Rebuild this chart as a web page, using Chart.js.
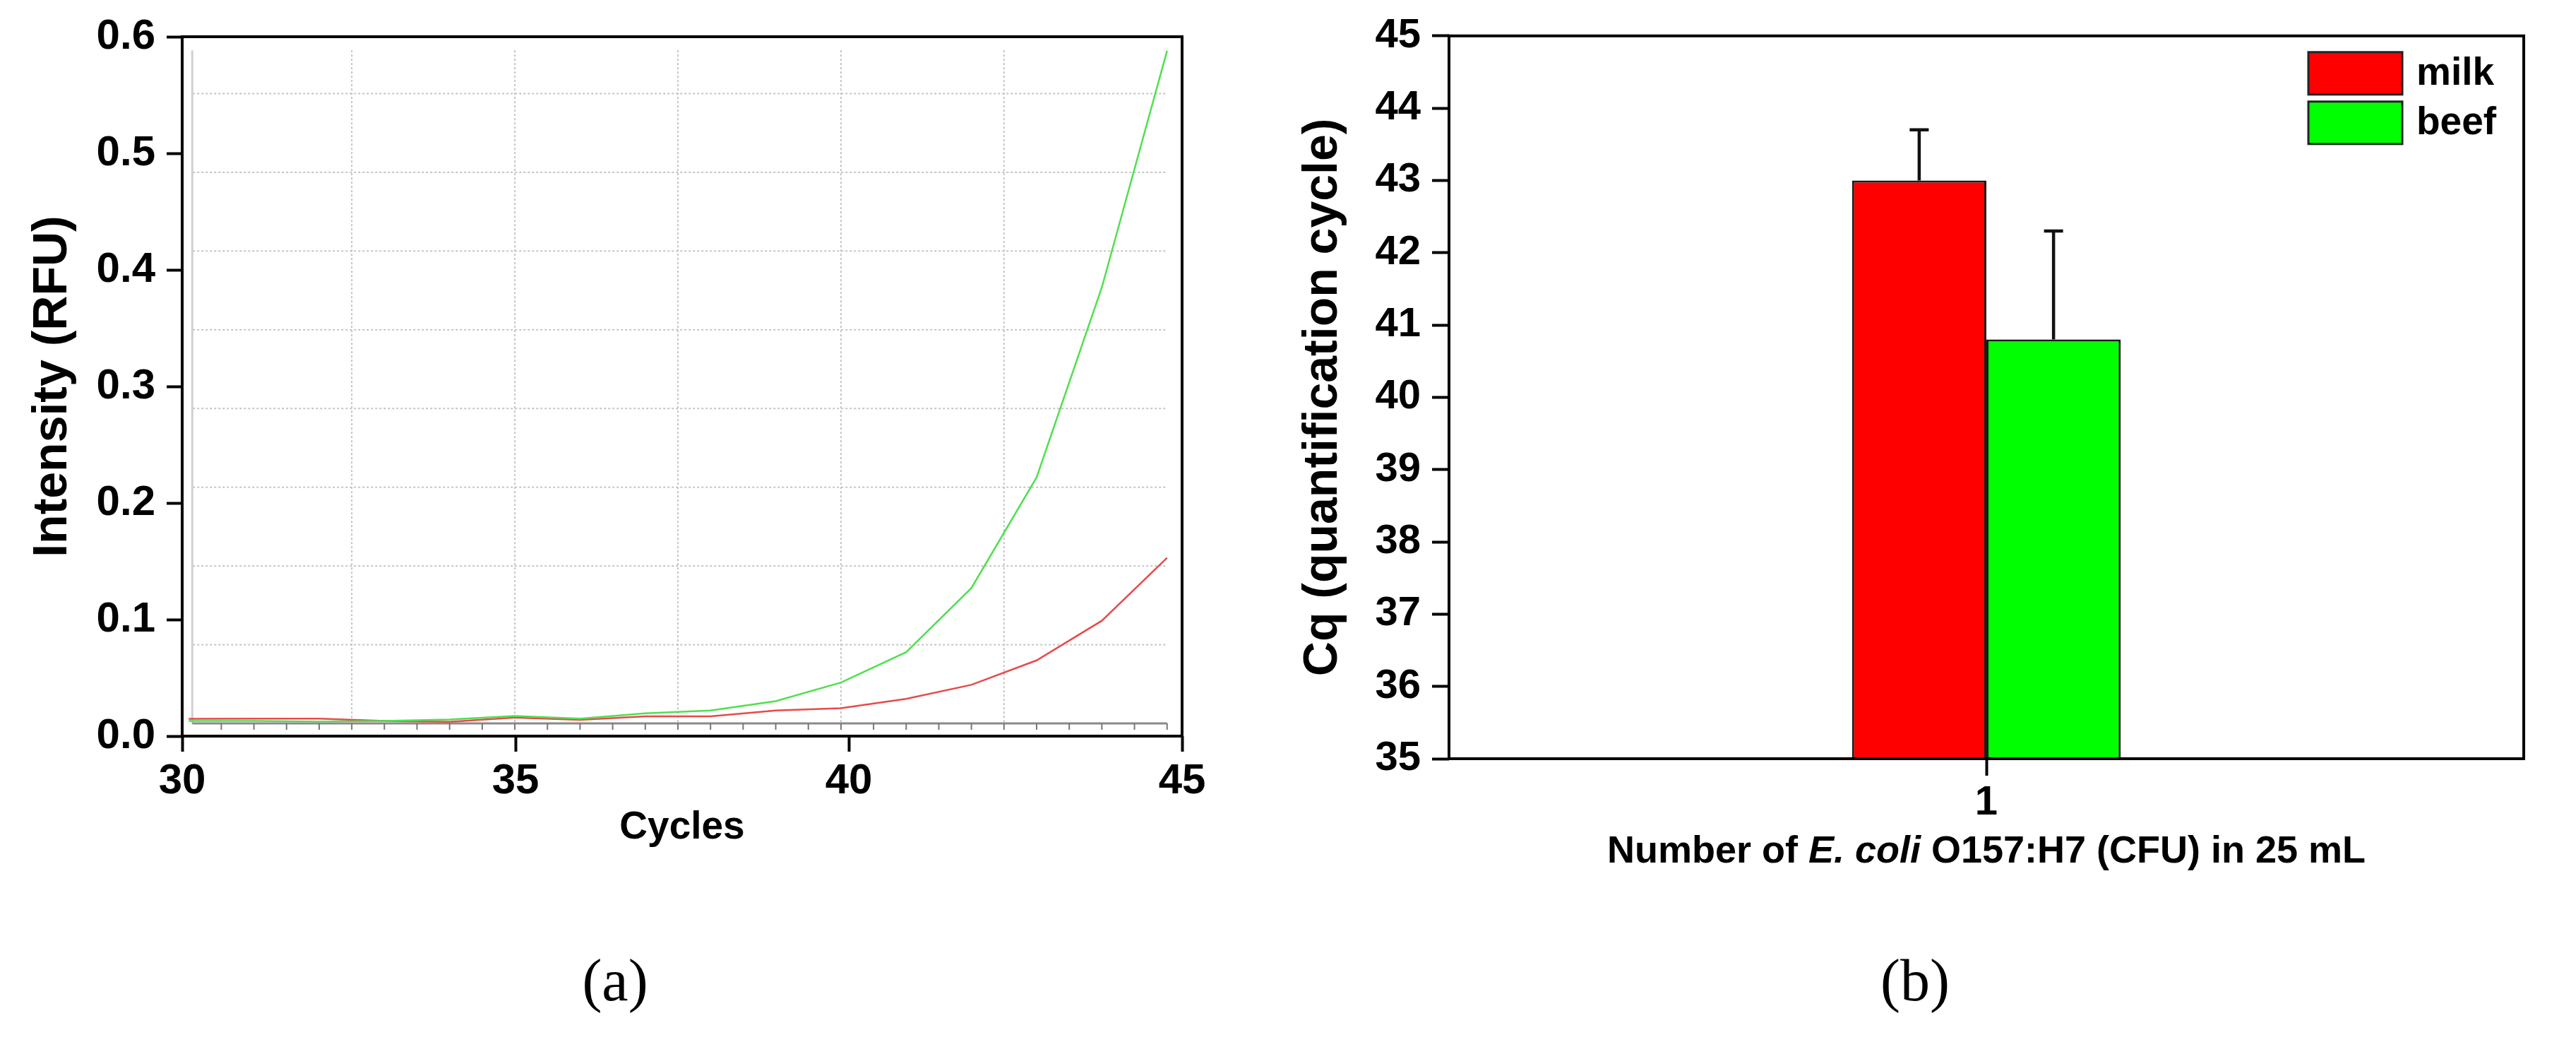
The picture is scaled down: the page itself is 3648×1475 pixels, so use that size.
<!DOCTYPE html>
<html>
<head>
<meta charset="utf-8">
<script src="https://cdn.jsdelivr.net/npm/chart.js@4.4.1/dist/chart.umd.min.js"></script>
<style>
  body { margin: 0; background: #fff; }
  #page { position: relative; width: 3648px; height: 1475px; background: #fff; overflow: hidden; }
  .plot { position: absolute; top: 0; }
  .xtitle { position: absolute; font: bold 54px 'Liberation Sans', Arial, sans-serif; line-height: 65px;
            text-align: center; white-space: nowrap; color: #000; }
  .caption { position: absolute; font: 84px 'Liberation Serif', 'Times New Roman', serif; line-height: 100px;
             text-align: center; color: #000; }
</style>
</head>
<body>
<div id="page">
  <canvas id="curves" class="plot" width="1800" height="1300" style="left:0"></canvas>
  <canvas id="cqBars" class="plot" width="1848" height="1300" style="left:1800px"></canvas>
  <div class="xtitle" style="left:2113px; top:1170px; width:1400px">Number of <i>E. coli</i> O157:H7 (CFU) in 25 mL</div>
  <div class="caption" style="left:771px; top:1338px; width:200px">(a)</div>
  <div class="caption" style="left:2612px; top:1338px; width:200px">(b)</div>
</div>
<script>
// (a) amplification curves
const cycles = [30, 31, 32, 33, 34, 35, 36, 37, 38, 39, 40, 41, 42, 43, 44, 45];
const beefRfu = [0.013, 0.013, 0.0125, 0.013, 0.0143, 0.0173, 0.015, 0.0195, 0.022, 0.030, 0.046, 0.072, 0.127, 0.222, 0.385, 0.588];
const milkRfu = [0.0149, 0.015, 0.015, 0.013, 0.0122, 0.0159, 0.014, 0.017, 0.017, 0.022, 0.024, 0.032, 0.044, 0.065, 0.099, 0.153];

// (b) Cq bars with upper error bars
const groups = ['1'];
const milkCq = [43.0];
const milkErr = [0.7];
const beefCq = [40.8];
const beefErr = [1.5];

const FONT = "'Liberation Sans', Arial, sans-serif";
Chart.defaults.font.family = FONT;
Chart.defaults.color = '#000';

const axisTicks = len => ({
    display: true, drawOnChartArea: false, drawTicks: true,
    tickLength: len, tickWidth: 4, tickColor: '#000'
});

// black box around the plot area
const frame = {
    id: 'frame',
    afterDraw(chart) {
        const { ctx, chartArea: a } = chart;
        ctx.save();
        ctx.strokeStyle = '#000';
        ctx.lineWidth = 4;
        ctx.strokeRect(a.left, a.top, a.right - a.left, a.bottom - a.top);
        ctx.restore();
    }
};

// grey grid of the instrument plot that sits inside panel (a)
const innerGrid = {
    id: 'innerGrid',
    beforeDatasetsDraw(chart) {
        const { ctx } = chart;
        const gx = chart.scales.x2, gy = chart.scales.y2;
        const x0 = gx.getPixelForValue(30), x1 = gx.getPixelForValue(45);
        const yb = gy.getPixelForValue(0), yt = gy.getPixelForValue(8.55);
        ctx.save();
        ctx.strokeStyle = '#c4c4c4';
        ctx.lineWidth = 2;
        ctx.setLineDash([3, 3]);
        for (let k = 1; k <= 8; k++) {
            const y = gy.getPixelForValue(k);
            ctx.beginPath(); ctx.moveTo(x0 + 6, y); ctx.lineTo(x1, y); ctx.stroke();
        }
        for (let c = 32.5; c < 45; c += 2.5) {
            const x = gx.getPixelForValue(c);
            ctx.beginPath(); ctx.moveTo(x, yt); ctx.lineTo(x, yb); ctx.stroke();
        }
        ctx.setLineDash([]);
        ctx.strokeStyle = '#d0d0d0';
        ctx.lineWidth = 3;
        ctx.beginPath(); ctx.moveTo(x0 + 5, yt); ctx.lineTo(x0 + 5, yb); ctx.stroke();
        ctx.strokeStyle = '#8a8a8a';
        ctx.beginPath(); ctx.moveTo(x0 + 5, yb); ctx.lineTo(x1, yb); ctx.stroke();
        ctx.lineWidth = 2;
        ctx.strokeStyle = '#777';
        for (let c = 30.5; c <= 45; c += 0.5) {
            const x = gx.getPixelForValue(c);
            ctx.beginPath(); ctx.moveTo(x, yb); ctx.lineTo(x, yb + 9); ctx.stroke();
        }
        ctx.restore();
    }
};

new Chart(document.getElementById('curves'), {
    type: 'line',
    data: {
        datasets: [{
            label: 'beef',
            data: cycles.map((c, i) => ({ x: c, y: beefRfu[i] })),
            borderColor: '#4fe04f',
            borderWidth: 2.5,
            pointRadius: 0,
            tension: 0,
            xAxisID: 'x2',
            yAxisID: 'y'
        }, {
            label: 'milk',
            data: cycles.map((c, i) => ({ x: c, y: milkRfu[i] })),
            borderColor: '#e84a4a',
            borderWidth: 2.5,
            pointRadius: 0,
            tension: 0,
            xAxisID: 'x2',
            yAxisID: 'y'
        }]
    },
    options: {
        responsive: false,
        animation: false,
        layout: { padding: { left: 0, top: 49, right: 126, bottom: 88 } },
        plugins: { legend: { display: false }, tooltip: { enabled: false } },
        scales: {
            x: {
                type: 'linear', position: 'bottom', min: 30, max: 45,
                ticks: { stepSize: 5, font: { size: 60, weight: 'bold' }, padding: 6, maxRotation: 0 },
                grid: axisTicks(22),
                border: { display: false },
                title: { display: true, text: 'Cycles', font: { size: 55, weight: 'bold' }, padding: { top: 0, bottom: 7 } },
                afterFit(s) { s.height = 170; }
            },
            x2: { type: 'linear', display: false, min: 29.9, max: 45.23 },
            y: {
                type: 'linear', position: 'left', min: 0, max: 0.6,
                ticks: { stepSize: 0.1, font: { size: 60, weight: 'bold' }, padding: 16, callback: v => v.toFixed(1) },
                grid: axisTicks(22),
                border: { display: false },
                title: { display: true, text: 'Intensity (RFU)', font: { size: 68, weight: 'bold' }, padding: { top: 34, bottom: 0 } },
                afterFit(s) { s.width = 258; }
            },
            y2: { type: 'linear', display: false, min: -0.161, max: 8.722 }
        }
    },
    plugins: [innerGrid, frame]
});

// upward error bars with caps
const errorBars = {
    id: 'errorBars',
    afterDatasetsDraw(chart) {
        const { ctx } = chart;
        const ys = chart.scales.y;
        ctx.save();
        ctx.strokeStyle = '#111';
        ctx.lineWidth = 4.5;
        chart.data.datasets.forEach((ds, i) => {
            chart.getDatasetMeta(i).data.forEach((bar, j) => {
                const top = ys.getPixelForValue(ds.data[j] + ds.errors[j]);
                ctx.beginPath();
                ctx.moveTo(bar.x, bar.y);
                ctx.lineTo(bar.x, top);
                ctx.moveTo(bar.x - 13.5, top);
                ctx.lineTo(bar.x + 13.5, top);
                ctx.stroke();
            });
        });
        ctx.restore();
    }
};

// legend boxes in the upper right corner of the plot
const boxLegend = {
    id: 'boxLegend',
    afterDraw(chart) {
        const { ctx, chartArea: a } = chart;
        ctx.save();
        ctx.font = 'bold 55px ' + FONT;
        ctx.textBaseline = 'middle';
        ctx.textAlign = 'left';
        chart.data.datasets.forEach((ds, i) => {
            const x = a.right - 305, y = a.top + 23 + i * 70;
            ctx.fillStyle = ds.backgroundColor;
            ctx.fillRect(x, y, 133, 60);
            ctx.strokeStyle = '#222';
            ctx.lineWidth = 3;
            ctx.strokeRect(x, y, 133, 60);
            ctx.fillStyle = '#000';
            ctx.fillText(ds.label, x + 153, y + 31);
        });
        ctx.restore();
    }
};

new Chart(document.getElementById('cqBars'), {
    type: 'bar',
    data: {
        labels: groups,
        datasets: [{
            label: 'milk',
            data: milkCq,
            errors: milkErr,
            backgroundColor: '#ff0000',
            borderColor: '#1a1a1a',
            borderWidth: 3,
            categoryPercentage: 0.25,
            barPercentage: 1.0
        }, {
            label: 'beef',
            data: beefCq,
            errors: beefErr,
            backgroundColor: '#00ff00',
            borderColor: '#1a1a1a',
            borderWidth: 3,
            categoryPercentage: 0.25,
            barPercentage: 1.0
        }]
    },
    options: {
        responsive: false,
        animation: false,
        layout: { padding: { left: 0, top: 49, right: 74, bottom: 126 } },
        plugins: { legend: { display: false }, tooltip: { enabled: false } },
        scales: {
            x: {
                type: 'category', offset: true,
                ticks: { font: { size: 58, weight: 'bold' }, padding: 4, maxRotation: 0 },
                grid: Object.assign(axisTicks(24), { offset: false }),
                border: { display: false },
                afterFit(s) { s.height = 100; }
            },
            y: {
                min: 35, max: 45,
                ticks: { stepSize: 1, font: { size: 58, weight: 'bold' }, padding: 16 },
                grid: axisTicks(24),
                border: { display: false },
                title: { display: true, text: 'Cq (quantification cycle)', font: { size: 68, weight: 'bold' }, padding: { top: 33, bottom: 0 } },
                afterFit(s) { s.width = 252; }
            }
        }
    },
    plugins: [errorBars, boxLegend, frame]
});
</script>
</body>
</html>
